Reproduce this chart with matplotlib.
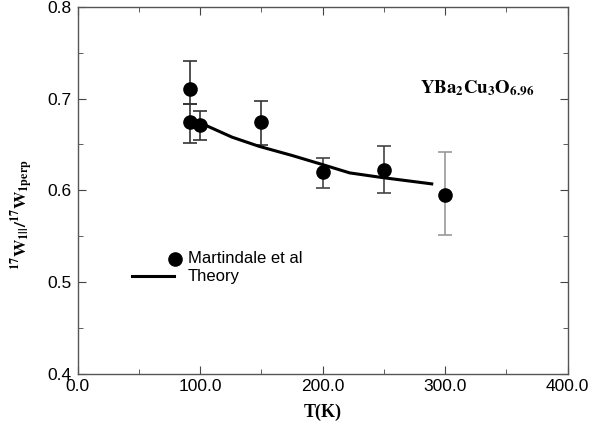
import matplotlib
matplotlib.use("Agg")
from matplotlib import pyplot as plt
from matplotlib.ticker import MultipleLocator, FormatStrFormatter

plt.rcParams["mathtext.fontset"] = "stix"

# Martindale et al data
temp = [92, 92, 100, 150, 200, 250, 300]
ratio = [0.710, 0.674, 0.671, 0.674, 0.620, 0.622, 0.595]
err_lo = [0.016, 0.022, 0.016, 0.025, 0.017, 0.025, 0.044]
err_hi = [0.031, 0.020, 0.015, 0.023, 0.015, 0.026, 0.047]
err_color = ["#333333", "#333333", "#333333", "#333333", "#444444", "#444444", "#999999"]

# theory curve
theory_t = [101, 126, 148, 175, 200, 222, 248, 289]
theory_r = [0.673, 0.658, 0.648, 0.638, 0.628, 0.619, 0.614, 0.607]

fig = plt.figure(figsize=(5.92, 4.32), dpi=100)
ax = fig.add_axes([0.131, 0.135, 0.828, 0.849])

ax.plot(theory_t, theory_r, color="black", lw=2.2, zorder=2)
for t, r, lo, hi, c in zip(temp, ratio, err_lo, err_hi, err_color):
    ax.errorbar([t], [r], yerr=[[lo], [hi]], fmt="none", ecolor=c,
                elinewidth=1.2, capsize=5, capthick=1.2, zorder=1)
ax.plot(temp, ratio, "o", color="black", ms=9.5, zorder=3)

ax.set_xlim(0, 400)
ax.set_ylim(0.4, 0.8)
ax.xaxis.set_major_locator(MultipleLocator(100))
ax.xaxis.set_minor_locator(MultipleLocator(50))
ax.yaxis.set_major_locator(MultipleLocator(0.1))
ax.yaxis.set_minor_locator(MultipleLocator(0.05))
ax.xaxis.set_major_formatter(FormatStrFormatter("%.1f"))
ax.yaxis.set_major_formatter(FormatStrFormatter("%.1f"))
ax.tick_params(which="both", direction="in", top=True, right=True,
               labelsize=12.5, color="#444444")
ax.tick_params(which="major", length=6, pad=4)
ax.tick_params(which="minor", length=3.5)
for lab in ax.get_xticklabels() + ax.get_yticklabels():
    lab.set_family("Liberation Sans")
for s in ax.spines.values():
    s.set_color("#555555")
    s.set_linewidth(1.0)

ax.set_xlabel("T(K)", family="Liberation Serif", weight="bold", fontsize=13, labelpad=7)
ax.set_ylabel(r"$\mathbf{^{17}W_{1||}/^{17}W_{1perp}}$", fontsize=12.5)
ax.yaxis.set_label_coords(-0.084, 0.434)

ax.text(0.816, 0.776, r"$\mathbf{YBa_2Cu_3O_{6.96}}$", transform=ax.transAxes,
        ha="center", va="center", fontsize=13.5)

# hand-placed legend
ax.plot([0.199], [0.313], "o", color="black", ms=9.5, transform=ax.transAxes, clip_on=False)
ax.text(0.225, 0.313, "Martindale et al", transform=ax.transAxes,
        family="Liberation Sans", fontsize=12, va="center")
ax.plot([0.112, 0.197], [0.266, 0.266], color="black", lw=2.2, transform=ax.transAxes)
ax.text(0.225, 0.266, "Theory", transform=ax.transAxes,
        family="Liberation Sans", fontsize=12, va="center")

fig.savefig("out.png", dpi=100)
